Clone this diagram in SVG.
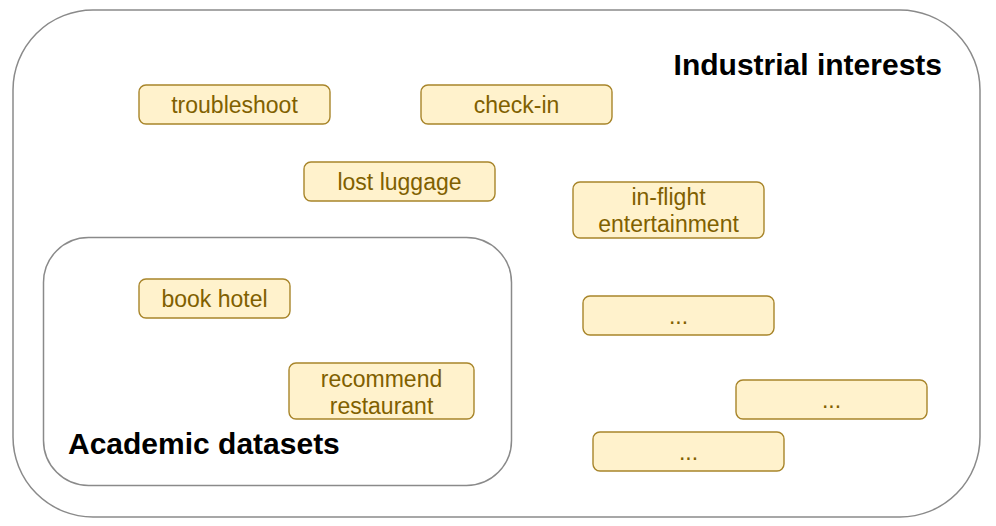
<svg xmlns="http://www.w3.org/2000/svg" width="996" height="526" viewBox="0 0 996 526">
<style>
.grp{fill:#ffffff;stroke:#8a8a8a;stroke-width:1.5}
.n{fill:#fff2cc;stroke:#a8852a;stroke-width:1.4}
.t{font-family:"Liberation Sans",Arial,sans-serif;font-size:23px;fill:#7f6000;text-anchor:middle}
.h{font-family:"Liberation Sans",Arial,sans-serif;font-size:30px;font-weight:bold;fill:#000000}
</style>
<rect width="996" height="526" fill="#ffffff"/>
<g id="industrial">
<rect class="grp" x="13" y="10" width="967" height="507" rx="80" ry="80"/>
<text class="h" x="942" y="75" text-anchor="end">Industrial interests</text>
</g>
<g id="academic">
<rect class="grp" x="43.5" y="237.5" width="468" height="248" rx="45" ry="45"/>
<text class="h" x="68" y="454">Academic datasets</text>
</g>
<g id="connectors"></g>
<g id="troubleshoot">
<rect class="n" x="139" y="85" width="191" height="39" rx="7"/>
<text class="t" x="234.5" y="113">troubleshoot</text>
</g>
<g id="check-in">
<rect class="n" x="421" y="85" width="191" height="39" rx="7"/>
<text class="t" x="516.5" y="113">check-in</text>
</g>
<g id="lost-luggage">
<rect class="n" x="304" y="162" width="191" height="39" rx="7"/>
<text class="t" x="399.5" y="190">lost luggage</text>
</g>
<g id="in-flight">
<rect class="n" x="573" y="182" width="191" height="56" rx="7"/>
<text class="t" x="668.5" y="204.5">in-flight</text>
<text class="t" x="668.5" y="231.5">entertainment</text>
</g>
<g id="book-hotel">
<rect class="n" x="139" y="279" width="151" height="39" rx="7"/>
<text class="t" x="214.5" y="307">book hotel</text>
</g>
<g id="recommend-restaurant">
<rect class="n" x="289" y="363" width="185" height="56" rx="7"/>
<text class="t" x="381.5" y="386.5">recommend</text>
<text class="t" x="381.5" y="413.5">restaurant</text>
</g>
<g id="more-1">
<rect class="n" x="583" y="296" width="191" height="39" rx="7"/>
<text class="t" x="678.5" y="324">...</text>
</g>
<g id="more-2">
<rect class="n" x="736" y="380" width="191" height="39" rx="7"/>
<text class="t" x="831.5" y="408">...</text>
</g>
<g id="more-3">
<rect class="n" x="593" y="432" width="191" height="39" rx="7"/>
<text class="t" x="688.5" y="460">...</text>
</g>
</svg>
